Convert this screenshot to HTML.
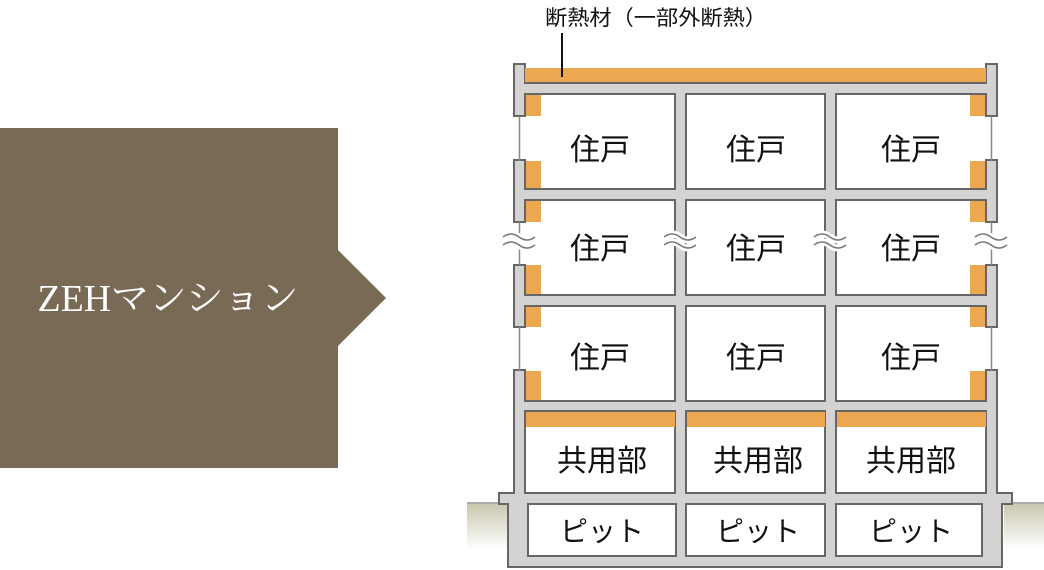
<!DOCTYPE html>
<html><head><meta charset="utf-8"><style>
html,body{margin:0;padding:0;background:#fff;width:1044px;height:570px;overflow:hidden}
svg{display:block}
.j{font-family:"Liberation Sans","Noto Sans CJK JP",sans-serif;fill:#111}
</style></head><body>
<svg width="1044" height="570" viewBox="0 0 1044 570" xmlns="http://www.w3.org/2000/svg">
<defs>
<linearGradient id="g" x1="0" y1="0" x2="0" y2="1">
<stop offset="0" stop-color="#c9c7ae"/><stop offset="1" stop-color="#ffffff"/>
</linearGradient>
</defs>
<polygon points="0,128 338,128 338,250 386,298 338,346 338,468 0,468" fill="#786a55"/>
<text x="168" y="311" text-anchor="middle" font-family="Liberation Serif,'Noto Serif CJK SC',serif" font-size="38" fill="#fff" textLength="261" lengthAdjust="spacingAndGlyphs">ZEHマンション</text>

<rect x="467" y="503" width="46" height="47" fill="url(#g)"/>
<rect x="1004" y="503" width="40" height="47" fill="url(#g)"/>
<line x1="467" y1="503" x2="500" y2="503" stroke="#aaa" stroke-width="2"/>
<line x1="1012" y1="503" x2="1044" y2="503" stroke="#aaa" stroke-width="2"/>

<path d="M514,64 H525 V83 H986 V64 H997 V493 H1012 V504 H1002 V567 H508 V504 H499 V493 H514 Z" fill="#d4d3d1" stroke="#666" stroke-width="2"/>
<rect x="525" y="68" width="461" height="15" fill="#eba850"/>
<line x1="525" y1="83" x2="986" y2="83" stroke="#666" stroke-width="2"/>

<g fill="#fff" stroke="#666" stroke-width="2">
<rect x="525" y="94" width="150" height="95"/><rect x="686" y="94" width="139" height="95"/><rect x="836" y="94" width="150" height="95"/>
<rect x="525" y="200" width="150" height="95"/><rect x="686" y="200" width="139" height="95"/><rect x="836" y="200" width="150" height="95"/>
<rect x="525" y="306" width="150" height="95"/><rect x="686" y="306" width="139" height="95"/><rect x="836" y="306" width="150" height="95"/>
<rect x="525" y="411" width="150" height="82"/><rect x="686" y="411" width="139" height="82"/><rect x="836" y="411" width="150" height="82"/>
<rect x="528" y="504" width="148" height="52"/><rect x="686" y="504" width="139" height="52"/><rect x="836" y="504" width="146" height="52"/>
</g>
<g fill="#eba850">
<rect x="526" y="412" width="149" height="15"/><rect x="687" y="412" width="138" height="15"/><rect x="837" y="412" width="149" height="15"/>
<rect x="526" y="95" width="15" height="21"/><rect x="526" y="161" width="15" height="27"/><rect x="526" y="201" width="15" height="21"/><rect x="526" y="265" width="15" height="29"/><rect x="526" y="307" width="15" height="20"/><rect x="526" y="371" width="15" height="29"/>
<rect x="970" y="95" width="15" height="21"/><rect x="970" y="161" width="15" height="27"/><rect x="970" y="201" width="15" height="21"/><rect x="970" y="265" width="15" height="29"/><rect x="970" y="307" width="15" height="20"/><rect x="970" y="371" width="15" height="29"/>
</g>
<g fill="#fff">
<rect x="511" y="117" width="15" height="43"/><rect x="511" y="223" width="15" height="41"/><rect x="511" y="328" width="15" height="42"/>
<rect x="985" y="117" width="15" height="43"/><rect x="985" y="223" width="15" height="41"/><rect x="985" y="328" width="15" height="42"/>
</g>
<g stroke="#666" stroke-width="2" fill="none">
<path d="M513,116 H526 M513,160 H526 M513,222 H526 M513,265 H526 M513,327 H526 M513,370 H526"/>
<path d="M985,116 H998 M985,160 H998 M985,222 H998 M985,265 H998 M985,327 H998 M985,370 H998"/>
<path d="M986,116 V94 M525,116 V94 M525,161 V189 M986,161 V189 M525,200 V222 M986,200 V222 M525,265 V295 M986,265 V295 M525,306 V327 M986,306 V327 M525,371 V401 M986,371 V401"/>
</g>
<g stroke="#888" stroke-width="1.5">
<line x1="519.5" y1="116" x2="519.5" y2="161"/><line x1="519.5" y1="222" x2="519.5" y2="265"/><line x1="519.5" y1="327" x2="519.5" y2="371"/>
<line x1="991.5" y1="116" x2="991.5" y2="161"/><line x1="991.5" y1="222" x2="991.5" y2="265"/><line x1="991.5" y1="327" x2="991.5" y2="371"/>
</g>
<g fill="none" stroke="#fff" stroke-width="7">
<path d="M503,237 q8,-6 16,0 t16,0 M503,245 q8,-6 16,0 t16,0"/>
<path d="M664,237 q8,-6 16,0 t16,0 M664,245 q8,-6 16,0 t16,0"/>
<path d="M814,237 q8,-6 16,0 t16,0 M814,245 q8,-6 16,0 t16,0"/>
<path d="M975,237 q8,-6 16,0 t16,0 M975,245 q8,-6 16,0 t16,0"/>
</g>
<g fill="none" stroke="#777" stroke-width="1.5">
<path d="M503,237 q8,-6 16,0 t16,0 M503,245 q8,-6 16,0 t16,0"/>
<path d="M664,237 q8,-6 16,0 t16,0 M664,245 q8,-6 16,0 t16,0"/>
<path d="M814,237 q8,-6 16,0 t16,0 M814,245 q8,-6 16,0 t16,0"/>
<path d="M975,237 q8,-6 16,0 t16,0 M975,245 q8,-6 16,0 t16,0"/>
</g>

<line x1="562" y1="33" x2="562" y2="77" stroke="#111" stroke-width="2"/>
<text class="j" x="545" y="25" font-size="21" textLength="222" lengthAdjust="spacingAndGlyphs">断熱材（一部外断熱）</text>

<g class="j" font-size="30" text-anchor="middle">
<text x="600" y="160">住戸</text><text x="756" y="160">住戸</text><text x="911" y="160">住戸</text>
<text x="600" y="259">住戸</text><text x="756" y="259">住戸</text><text x="911" y="259">住戸</text>
<text x="600" y="368">住戸</text><text x="756" y="368">住戸</text><text x="911" y="368">住戸</text>
<text x="602" y="471">共用部</text><text x="758" y="471">共用部</text><text x="911" y="471">共用部</text>
<text x="602" y="541" font-size="28">ピット</text><text x="758" y="541" font-size="28">ピット</text><text x="911" y="541" font-size="28">ピット</text>
</g>
</svg>
</body></html>
